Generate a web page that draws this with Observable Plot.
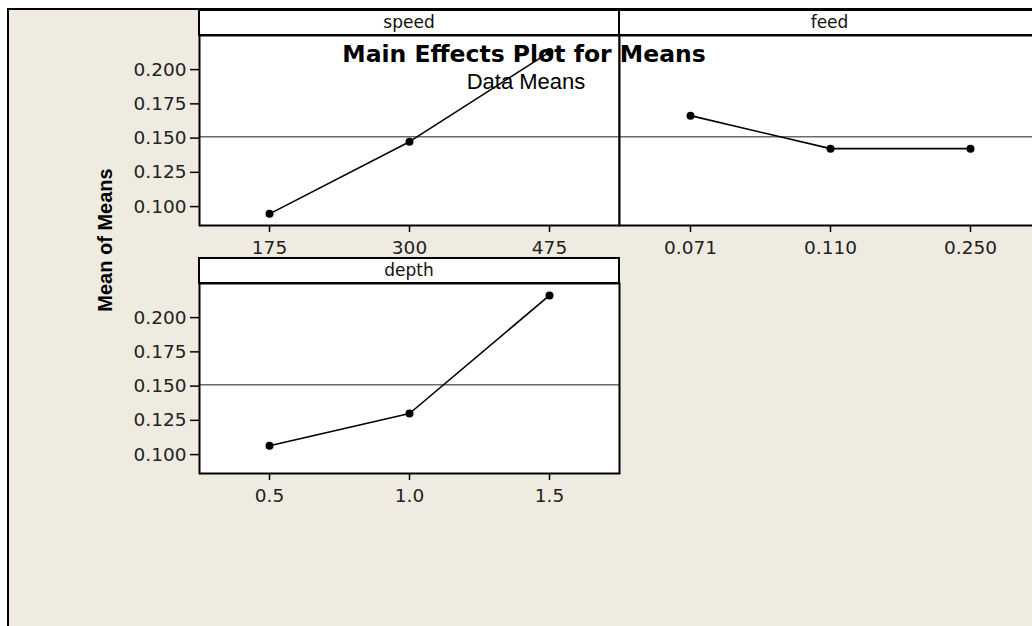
<!DOCTYPE html>
<html><head><meta charset="utf-8">
<script src="https://cdn.jsdelivr.net/npm/d3@7"></script>
<script src="https://cdn.jsdelivr.net/npm/@observablehq/plot@0.6"></script>
<style>
html,body{margin:0;padding:0;background:#fff;overflow:hidden}
#page{position:relative;width:1032px;height:626px;overflow:hidden;background:#fff;font-family:"DejaVu Sans",sans-serif}
#bg{position:absolute;left:7px;top:8px;width:1100px;height:700px;background:#EFEBE0;border-left:2px solid #000;border-top:2px solid #000;box-sizing:border-box}
.hdr{position:absolute;background:#fff;border:2px solid #000;box-sizing:border-box;text-align:center;font-family:"DejaVu Sans",sans-serif;font-size:17px;color:#111}
.pnl{position:absolute}
#title{position:absolute;left:324px;width:400px;top:40px;text-align:center;font-family:"DejaVu Sans",sans-serif;font-weight:bold;font-size:23.5px;color:#000;white-space:nowrap;pointer-events:none}
#sub{position:absolute;left:326px;width:400px;top:69px;text-align:center;font-family:"Liberation Sans",Arial,sans-serif;font-size:22px;color:#000;white-space:nowrap}
#ylab{position:absolute;left:105px;top:240px;transform:translate(-50%,-50%) rotate(-90deg);font-family:"Liberation Sans",Arial,sans-serif;font-weight:bold;font-size:20px;color:#000;white-space:nowrap}
</style></head>
<body>
<div id="page">
  <div id="bg"></div>
</div>
<script>
// ---- data ----
const speedLevels = ["175", "300", "475"];
const speedMeans  = [0.0947, 0.1474, 0.2128];
const feedLevels  = ["0.071", "0.110", "0.250"];
const feedMeans   = [0.1664, 0.1423, 0.1423];
const depthLevels = ["0.5", "1.0", "1.5"];
const depthMeans  = [0.1065, 0.1300, 0.2162];
const grandMean   = 0.1510;
const yTicks      = [0.100, 0.125, 0.150, 0.175, 0.200];
const yDomain     = [0.0862, 0.2249];

const page = document.getElementById("page");

function panel({name, levels, means, left, top, w, h, showY}) {
  const data = levels.map((l, i) => ({level: l, mean: means[i]}));
  const ML = showY ? 120 : 2, MT = 2, MR = 2, MB = 40;
  const chart = Plot.plot({
    width: ML + w + MR,
    height: MT + h + MB,
    marginLeft: ML, marginRight: MR, marginTop: MT, marginBottom: MB,
    style: {background: "transparent", fontFamily: "'DejaVu Sans', sans-serif", fontSize: "18.5px", color: "#222", overflow: "visible"},
    x: {type: "point", domain: levels, padding: 0.5, label: null},
    y: {domain: yDomain, label: null, axis: showY ? undefined : null},
    marks: [
      Plot.frame({fill: "#fff", stroke: "none"}),
      Plot.ruleY([grandMean], {stroke: "#6a6a6a", strokeWidth: 1.5}),
      Plot.line(data, {x: "level", y: "mean", stroke: "#000", strokeWidth: 1.6}),
      Plot.dot(data, {x: "level", y: "mean", r: 4, fill: "#000", stroke: "none"}),
      Plot.frame({stroke: "#000", strokeWidth: 2}),
      Plot.axisX({tickSize: 7, tickPadding: 8, stroke: "#000", strokeWidth: 1.5, fill: "#222"}),
      showY ? Plot.axisY({ticks: yTicks, tickFormat: d3.format(".3f"), tickSize: 9, tickPadding: 4, stroke: "#000", strokeWidth: 1.5, fill: "#222"}) : null
    ]
  });
  chart.classList.add("pnl");
  chart.style.left = (left - ML) + "px";
  chart.style.top = (top - MT) + "px";
  page.appendChild(chart);

  const hd = document.createElement("div");
  hd.className = "hdr";
  hd.style.left = (left - 1) + "px";
  hd.style.top = (top - 26) + "px";
  hd.style.width = (w + 2) + "px";
  hd.style.height = "27px";
  hd.style.lineHeight = "23px";
  hd.textContent = name;
  page.appendChild(hd);
}

panel({name: "speed", levels: speedLevels, means: speedMeans, left: 199, top: 35, w: 420, h: 190, showY: true});
panel({name: "feed",  levels: feedLevels,  means: feedMeans,  left: 619, top: 35, w: 421, h: 190, showY: false});
panel({name: "depth", levels: depthLevels, means: depthMeans, left: 199, top: 283, w: 420, h: 190, showY: true});

const t = document.createElement("div"); t.id = "title"; t.textContent = "Main Effects Plot for Means"; page.appendChild(t);
const s = document.createElement("div"); s.id = "sub"; s.textContent = "Data Means"; page.appendChild(s);
const y = document.createElement("div"); y.id = "ylab"; y.textContent = "Mean of Means"; page.appendChild(y);
</script>
</body></html>
